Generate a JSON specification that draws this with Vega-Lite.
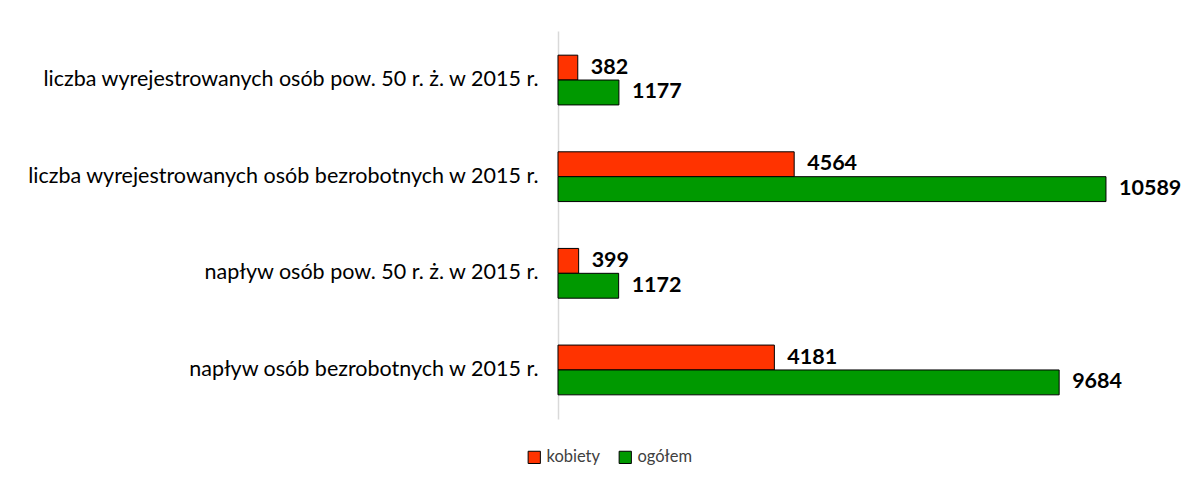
{
  "$schema": "https://vega.github.io/schema/vega-lite/v6.json",
  "width": 621,
  "height": 388,
  "autosize": "none",
  "padding": {"left": 558, "top": 31, "right": 10, "bottom": 61},
  "background": "white",
  "config": {"view": {"stroke": null}, "font": "Lato"},
  "data": {"values": [
    {"kat": "liczba wyrejestrowanych osób pow. 50 r. ż. w 2015 r.", "seria": "kobiety", "v": 382},
    {"kat": "liczba wyrejestrowanych osób pow. 50 r. ż. w 2015 r.", "seria": "ogółem", "v": 1177},
    {"kat": "liczba wyrejestrowanych osób bezrobotnych w 2015 r.", "seria": "kobiety", "v": 4564},
    {"kat": "liczba wyrejestrowanych osób bezrobotnych w 2015 r.", "seria": "ogółem", "v": 10589},
    {"kat": "napływ osób pow. 50 r. ż. w 2015 r.", "seria": "kobiety", "v": 399},
    {"kat": "napływ osób pow. 50 r. ż. w 2015 r.", "seria": "ogółem", "v": 1172},
    {"kat": "napływ osób bezrobotnych w 2015 r.", "seria": "kobiety", "v": 4181},
    {"kat": "napływ osób bezrobotnych w 2015 r.", "seria": "ogółem", "v": 9684}
  ]},
  "encoding": {
    "y": {
      "field": "kat", "type": "nominal", "sort": null, "title": null,
      "scale": {"paddingInner": 0.485, "paddingOuter": 0.25},
      "axis": {"domainColor": "#d9d9d9", "domainWidth": 1.5, "ticks": false, "labelFontSize": 21.5, "labelColor": "#000000", "labelPadding": 20, "labelLimit": 600, "labelFont": "Lato"}
    },
    "yOffset": {"field": "seria", "type": "nominal", "sort": ["kobiety", "ogółem"], "scale": {"paddingInner": 0, "paddingOuter": 0}},
    "x": {"field": "v", "type": "quantitative", "title": null, "scale": {"domain": [0, 12000], "nice": false}, "axis": null}
  },
  "layer": [
    {
      "mark": {"type": "bar", "stroke": "#000000", "strokeWidth": 1},
      "encoding": {
        "color": {
          "field": "seria", "type": "nominal", "title": null,
          "scale": {"domain": ["kobiety", "ogółem"], "range": ["#FF3300", "#009900"]},
          "legend": {"orient": "none", "legendX": -32, "legendY": 418, "direction": "horizontal", "symbolType": "square", "symbolSize": 150, "symbolStrokeColor": "#000000", "symbolStrokeWidth": 1, "labelFontSize": 16.5, "labelColor": "#404040", "columnPadding": 16, "labelOffset": 4}
        }
      }
    },
    {
      "mark": {"type": "text", "align": "left", "baseline": "middle", "dx": 13, "fontSize": 21.5, "fontWeight": "bold", "color": "#000000"},
      "encoding": {"text": {"field": "v", "type": "quantitative", "format": "d"}}
    }
  ]
}
